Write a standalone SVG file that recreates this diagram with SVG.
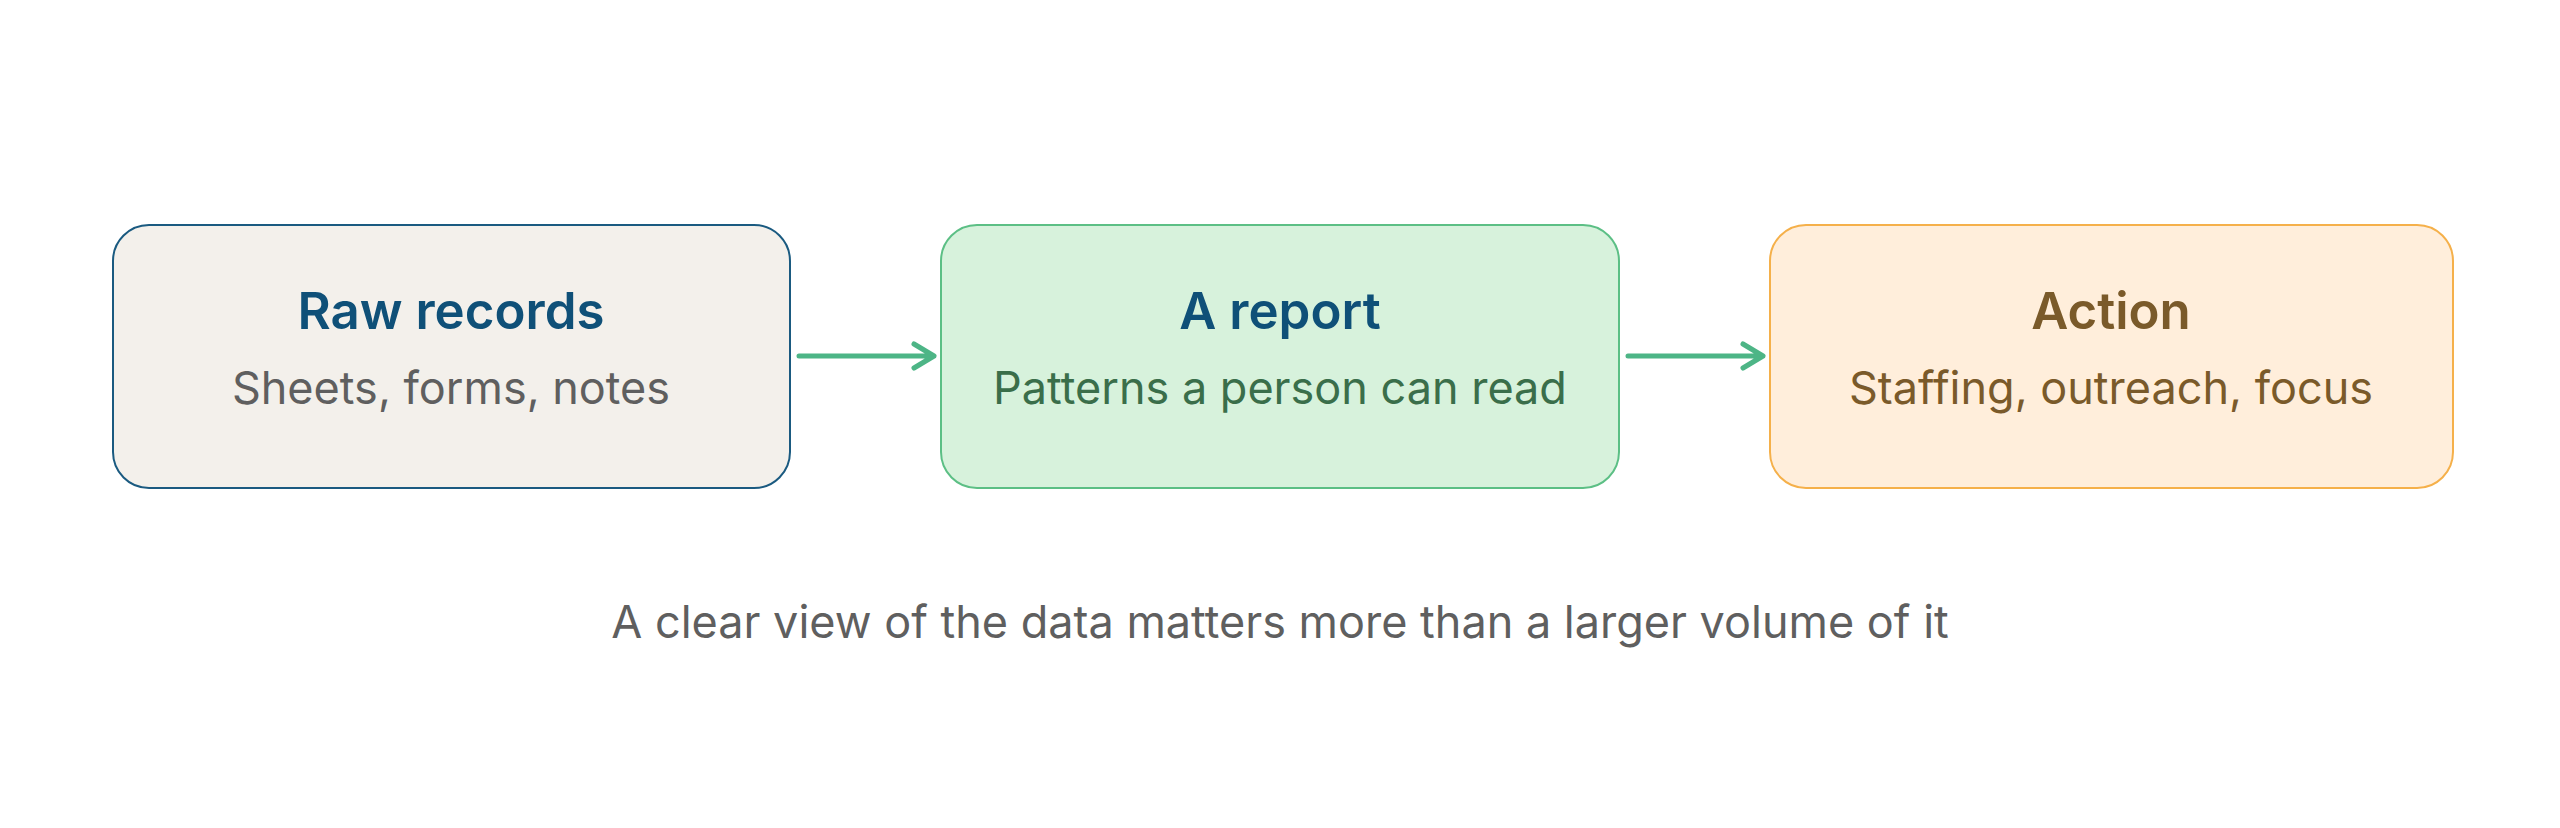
<svg xmlns="http://www.w3.org/2000/svg" width="2560" height="828" viewBox="0 0 2560 828">
<style>
text{font-family:Inter,"Noto Sans","Liberation Sans",sans-serif;text-anchor:middle}
.t{font-size:51px;font-weight:600}
.s{font-size:45px}
.c{stroke:#4db586;stroke-width:5;fill:none;stroke-linecap:round;stroke-linejoin:round}
</style>
<rect width="2560" height="828" fill="#fff"/>
<g id="raw"><rect x="113" y="225" width="677" height="263" rx="36" fill="#f3f0eb" stroke="#1a5a80" stroke-width="2"/>
<text class="t" x="451" y="329" fill="#0f5078">Raw records</text>
<text class="s" x="451" y="404" fill="#5f5f5f">Sheets, forms, notes</text></g>
<g id="report"><rect x="941" y="225" width="678" height="263" rx="36" fill="#d7f2dc" stroke="#5cbf85" stroke-width="2"/>
<text class="t" x="1280" y="329" fill="#0f5078">A report</text>
<text class="s" x="1280" y="404" fill="#3a6e4a">Patterns a person can read</text></g>
<g id="action"><rect x="1770" y="225" width="683" height="263" rx="36" fill="#ffeedb" stroke="#f5b04a" stroke-width="2"/>
<text class="t" x="2111" y="329" fill="#7a5a2a">Action</text>
<text class="s" x="2111" y="404" fill="#7a5a2a">Staffing, outreach, focus</text></g>
<g id="connectors">
<path class="c" d="M799,356 H934 M914,344 L934,356 L914,368"/>
<path class="c" d="M1628,356 H1763 M1743,344 L1763,356 L1743,368"/>
</g>
<text class="s" x="1280" y="638" fill="#5f5f5f">A clear view of the data matters more than a larger volume of it</text>
</svg>
